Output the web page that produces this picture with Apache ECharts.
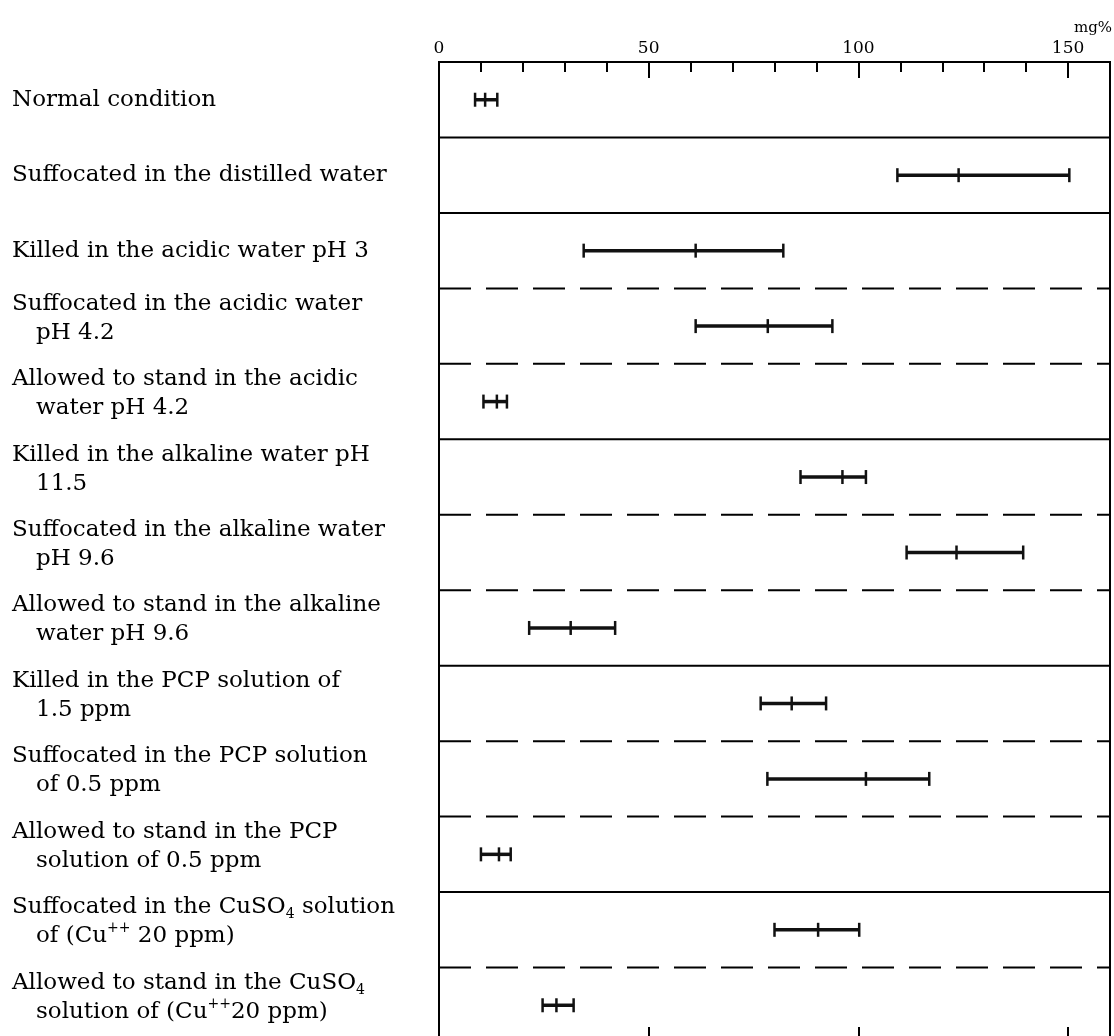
<!DOCTYPE html>
<html><head><meta charset="utf-8">
<script src="https://cdn.jsdelivr.net/npm/echarts@6/dist/echarts.min.js"></script>
<style>html,body{margin:0;padding:0;background:#fff}#c{width:1114px;height:1036px}</style>
</head><body><div id="c"></div>
<script>
// ---- data ----
const categories = [
  'Normal condition',
  'Suffocated in the distilled water',
  'Killed in the acidic water pH 3',
  'Suffocated in the acidic water\npH 4.2',
  'Allowed to stand in the acidic\nwater pH 4.2',
  'Killed in the alkaline water pH\n11.5',
  'Suffocated in the alkaline water\npH 9.6',
  'Allowed to stand in the alkaline\nwater pH 9.6',
  'Killed in the PCP solution of\n1.5 ppm',
  'Suffocated in the PCP solution\nof 0.5 ppm',
  'Allowed to stand in the PCP\nsolution of 0.5 ppm',
  'Suffocated in the CuSO4 solution\nof (Cu++ 20 ppm)',
  'Allowed to stand in the CuSO4\nsolution of (Cu++20 ppm)'
];
const lowValues  = [8.6, 109.3, 34.5, 61.2, 10.6, 86.2, 111.5, 21.5, 76.7, 78.3, 10.0, 80.0, 24.7];
const meanValues = [11.0, 123.9, 61.2, 78.4, 13.8, 96.2, 123.4, 31.4, 84.1, 101.8, 14.3, 90.4, 28.0];
const highValues = [13.9, 150.3, 82.1, 93.8, 16.2, 101.8, 139.3, 42.0, 92.3, 116.9, 17.1, 100.2, 32.1];
const solidBreaks  = [1, 2, 5, 8, 11];
const dashedBreaks = [3, 4, 6, 7, 9, 10, 12];
const axisMin = 0, axisMax = 160, minorStep = 10, majorStep = 50;
const unitLabel = 'mg%';

// ---- chart ----
const FONT = "'DejaVu Serif', serif";
const barData = categories.map((c, i) => [i, lowValues[i], meanValues[i], highValues[i]]);
const breakData = solidBreaks.map(k => [k, 0]).concat(dashedBreaks.map(k => [k, 1]));

function fmtLabel(v) {
  let s = v.replace(/CuSO4/g, 'CuSO{sub|4}').replace(/Cu\+\+/g, 'Cu{sup|++}');
  const lines = s.split('\n');
  if (lines.length === 1) return lines[0];
  return lines[0] + '\n{ind| }' + lines[1] + '\n{gap| }';
}

const chart = echarts.init(document.getElementById('c'), null, {renderer: 'canvas'});
chart.setOption({
  animation: false,
  backgroundColor: '#fff',
  grid: {left: 439, right: 4, top: 62, height: 981, outerBoundsMode: 'none', containLabel: false,
         show: true, borderColor: '#000', borderWidth: 2, backgroundColor: 'transparent'},
  xAxis: [
    {type: 'value', position: 'top', min: axisMin, max: axisMax, interval: minorStep,
     axisLine: {show: true, lineStyle: {color: '#000', width: 2}},
     axisTick: {show: true, inside: true, length: 10, lineStyle: {color: '#000', width: 2}},
     axisLabel: {show: false}, splitLine: {show: false}},
    {type: 'value', position: 'top', min: axisMin, max: axisMax, interval: majorStep,
     name: unitLabel, nameLocation: 'end', nameGap: 2,
     nameTextStyle: {fontFamily: FONT, fontSize: 15, color: '#000', align: 'right', verticalAlign: 'bottom', padding: [0, 0, 26, 0]},
     axisLine: {show: false},
     axisTick: {show: true, inside: true, length: 16, lineStyle: {color: '#000', width: 2}},
     axisLabel: {show: true, margin: 5, fontFamily: FONT, fontSize: 17, color: '#000',
       formatter: v => (v % majorStep === 0 ? String(v) : '')},
     splitLine: {show: false}},
    {type: 'value', position: 'bottom', min: axisMin, max: axisMax, interval: majorStep,
     axisLine: {show: true, lineStyle: {color: '#000', width: 2}},
     axisTick: {show: true, inside: true, length: 16, lineStyle: {color: '#000', width: 2}},
     axisLabel: {show: false}, splitLine: {show: false}}
  ],
  yAxis: [
    {type: 'category', data: categories, inverse: true,
     axisLine: {show: false}, axisTick: {show: false}, splitLine: {show: false},
     axisLabel: {show: true, interval: 0, align: 'left', margin: 427,
       fontFamily: FONT, fontSize: 23, lineHeight: 29, color: '#000',
       formatter: fmtLabel,
       rich: {
         ind: {width: 24, fontSize: 23},
         gap: {fontSize: 8, lineHeight: 16},
         sub: {fontFamily: FONT, fontSize: 14, color: '#000', verticalAlign: 'bottom'},
         sup: {fontFamily: FONT, fontSize: 14, color: '#000', verticalAlign: 'top'}
       }}},
    {type: 'value', min: 0, max: categories.length, inverse: true, show: false}
  ],
  series: [
    {type: 'custom', xAxisIndex: 0, yAxisIndex: 1, data: breakData, encode: {y: 0, x: 1}, z: 1, silent: true,
     renderItem: (params, api) => {
       const k = api.value(0), dashed = api.value(1);
       const p1 = api.coord([axisMin, k]), p2 = api.coord([axisMax, k]);
       return {type: 'line', shape: {x1: p1[0], y1: p1[1], x2: p2[0], y2: p2[1]},
         style: {stroke: '#000', lineWidth: 2, lineDash: dashed ? [32, 15] : null}};
     }},
    {type: 'custom', xAxisIndex: 0, yAxisIndex: 0, data: barData, encode: {y: 0, x: [1, 2, 3]}, z: 3,
     renderItem: (params, api) => {
       const c = api.value(0);
       const lo = api.coord([api.value(1), c]);
       const me = api.coord([api.value(2), c]);
       const hi = api.coord([api.value(3), c]);
       const h = 7;
       const st = {stroke: '#111', lineWidth: 3.5};
       const cap = {stroke: '#111', lineWidth: 2.5};
       return {type: 'group', children: [
         {type: 'line', shape: {x1: lo[0], y1: lo[1], x2: hi[0], y2: hi[1]}, style: st},
         {type: 'line', shape: {x1: lo[0], y1: lo[1] - h, x2: lo[0], y2: lo[1] + h}, style: cap},
         {type: 'line', shape: {x1: me[0], y1: me[1] - h, x2: me[0], y2: me[1] + h}, style: cap},
         {type: 'line', shape: {x1: hi[0], y1: hi[1] - h, x2: hi[0], y2: hi[1] + h}, style: cap}
       ]};
     }}
  ]
});
</script></body></html>
